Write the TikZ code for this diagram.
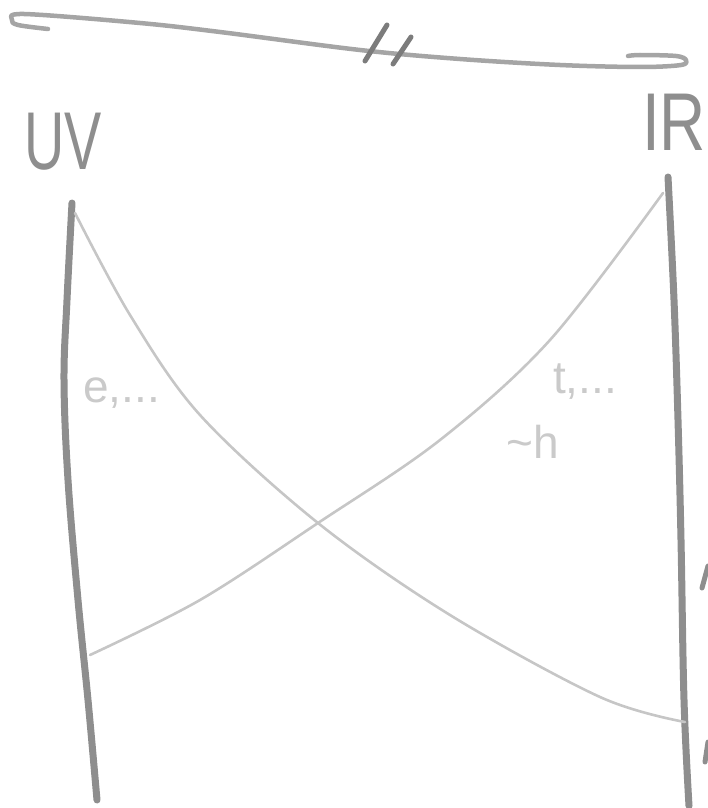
\documentclass[tikz,border=0pt]{standalone}
\usepackage{fontspec}
\setmainfont{Liberation Sans}
\definecolor{rgInk}{HTML}{8E8E8E}
\definecolor{rgDark}{HTML}{7C7C7C}
\definecolor{rgPencil}{HTML}{C6C6C6}
\definecolor{rgFaint}{HTML}{CACACA}
\tikzset{
  rg bar/.style={draw=rgInk, line width=7pt, line cap=round, line join=round},
  rg scale/.style={draw=rgInk!80, line width=4.5pt, line cap=round, line join=round},
  rg hash/.style={draw=rgDark, line width=5pt, line cap=round},
  rg flow/.style={draw=rgPencil, line width=2.6pt, line cap=round},
  rg label/.style={font=\fontsize{82}{82}\selectfont, text=rgInk, inner sep=0pt, anchor=base},
  rg small label/.style={font=\fontsize{46}{46}\selectfont, text=rgFaint, inner sep=0pt, anchor=base west},
}

\begin{document}
\begin{tikzpicture}[x=1pt, y=-1pt]
  \useasboundingbox (0,0) rectangle (708,808);

  % Top: energy scale with a break mark
  \draw[rg scale] plot[smooth, tension=0.55] coordinates {(48,29) (18,25) (12,20) (24,14)
    (140,23) (220,32) (360,50) (460,59) (560,65) (640,67) (681,65) (686,60) (676,56) (640,55) (628,56)};
  \draw[rg hash] (387,25) -- (365,61);
  \draw[rg hash] (411,37) -- (393,64);

  % Ends of the scale
  \node[rg label] (uv) at (63,169) {\scalebox{0.68}[1]{UV}};
  \node[rg label] (ir) at (674,150) {\scalebox{0.78}[1]{IR}};

  % The two vertical bars
  \draw[rg bar] plot[smooth, tension=0.6] coordinates {(72,203) (67,300) (64,380) (68,480) (78,600) (88,700) (97,800)};
  \draw[rg bar] plot[smooth, tension=0.6] coordinates {(668,177) (674,300) (678,420) (681,540) (684,700) (689,806)};

  % Crossing flows
  \coordinate (uvtop) at (75,213);
  \coordinate (irlow) at (685,722);
  \coordinate (uvlow) at (90,655);
  \coordinate (irtop) at (663,193);
  \coordinate (cross) at (318,523);
  \draw[rg flow] plot[smooth, tension=0.55] coordinates {(uvtop) (130,315) (200,415) (cross)
    (450,615) (600,697) (irlow)};
  \draw[rg flow] plot[smooth, tension=0.55] coordinates {(uvlow) (200,600) (cross)
    (440,440) (550,340) (irtop)};

  % Labels on the flows
  \node[rg small label] (ecoup) at (83,402) {e,...};
  \node[rg small label] (tcoup) at (553,393) {t,...};
  \node[rg small label] (hcoup) at (506,458) {\textasciitilde h};

  % Marks cut off at the right edge
  \draw[rg bar, line width=5pt] (708,566) -- (702,588);
  \draw[rg bar, line width=5pt] (708,742) -- (705,762);
\end{tikzpicture}
\end{document}
